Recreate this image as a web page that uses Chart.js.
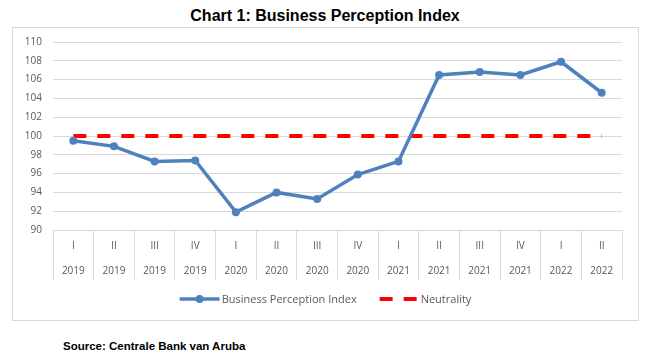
<!DOCTYPE html>
<html>
<head>
<meta charset="utf-8">
<script src="https://cdn.jsdelivr.net/npm/chart.js@4"></script>
<style>
  body { margin: 0; background: #fff; width: 657px; height: 362px; position: relative; overflow: hidden; }
  #title { position: absolute; left: 0; width: 650px; top: 7px; text-align: center;
    font: bold 16px "Liberation Sans", Arial, sans-serif; color: #000; }
  #box { position: absolute; left: 12px; top: 27px; width: 625px; height: 292px; border: 1px solid #d9d9d9; }
  #source { position: absolute; left: 63px; top: 340px; font: bold 11.5px "Liberation Sans", Arial, sans-serif; color: #000; }
</style>
</head>
<body>
<div id="title">Chart 1: Business Perception Index</div>
<div id="box"><canvas id="bpiChart"></canvas></div>
<div id="source">Source: Centrale Bank van Aruba</div>
<script>
// ===== DATA =====
const quarters = ["I", "II", "III", "IV", "I", "II", "III", "IV", "I", "II", "III", "IV", "I", "II"];
const years = ["2019", "2019", "2019", "2019", "2020", "2020", "2020", "2020", "2021", "2021", "2021", "2021", "2022", "2022"];
const bpiValues = [99.5, 98.9, 97.3, 97.4, 91.9, 94.0, 93.3, 95.9, 97.3, 106.5, 106.8, 106.5, 107.9, 104.6];
const neutrality = [100, 100, 100, 100, 100, 100, 100, 100, 100, 100, 100, 100, 100, 100];
const yTicks = [90, 92, 94, 96, 98, 100, 102, 104, 106, 108, 110];

const labels = quarters.map((q, i) => [q, years[i]]);
const tickFont = { family: "'Open Sans', sans-serif", size: 10 };

// ===== LEGEND (drawn under the axis) =====
const legendPlugin = {
  id: "bottomLegend",
  afterDraw(chart) {
    const ctx = chart.ctx;
    const y = 271;
    ctx.save();
    ctx.font = "11px 'Open Sans', sans-serif";
    const items = chart.data.datasets.slice().reverse();
    const lineW = 40, gap = 2, space = 22;
    let total = 0;
    items.forEach((d, i) => {
      total += lineW + gap + ctx.measureText(d.label).width + (i ? space : 0);
    });
    let x = chart.width / 2 - total / 2;
    items.forEach(d => {
      ctx.strokeStyle = d.borderColor;
      ctx.lineWidth = d.borderWidth;
      ctx.setLineDash(d.borderDash || []);
      ctx.beginPath();
      if (d.borderDash) {
        ctx.moveTo(x + 1, y); ctx.lineTo(x + lineW, y);
      } else {
        ctx.moveTo(x, y); ctx.lineTo(x + lineW, y);
      }
      ctx.stroke();
      ctx.setLineDash([]);
      if (d.pointRadius) {
        ctx.fillStyle = d.borderColor;
        ctx.beginPath();
        ctx.arc(x + lineW / 2, y, d.pointRadius, 0, Math.PI * 2);
        ctx.fill();
      }
      ctx.fillStyle = "#595959";
      ctx.textBaseline = "middle";
      ctx.fillText(d.label, x + lineW + gap, y + 1);
      x += lineW + gap + ctx.measureText(d.label).width + space;
    });
    ctx.restore();
  }
};

// ===== CHART =====
new Chart(document.getElementById("bpiChart"), {
  type: "line",
  data: {
    labels: labels,
    datasets: [{
      label: "Neutrality",
      data: neutrality,
      borderColor: "#ff0000",
      borderWidth: 4,
      borderDash: [13, 11],
      pointRadius: 0,
      order: 2
    }, {
      label: "Business Perception Index",
      data: bpiValues,
      borderColor: "#4f81bd",
      backgroundColor: "#4f81bd",
      borderWidth: 3.5,
      pointRadius: 4,
      pointBackgroundColor: "#4f81bd",
      pointBorderWidth: 0,
      tension: 0,
      order: 1
    }]
  },
  options: {
    responsive: true,
    maintainAspectRatio: false,
    animation: false,
    layout: { padding: { top: 14, right: 16, left: 0, bottom: 0 } },
    plugins: { legend: { display: false }, tooltip: { enabled: false } },
    scales: {
      x: {
        offset: true,
        grid: { offset: true, drawOnChartArea: false, tickLength: 50, color: "#d9d9d9" },
        border: { color: "#d9d9d9" },
        ticks: { font: { ...tickFont, lineHeight: 2.5 }, color: "#595959", padding: -46, maxRotation: 0, autoSkip: false },
        afterFit(scale) { scale.height = 90; }
      },
      y: {
        min: 90,
        max: 110,
        afterBuildTicks(scale) { scale.ticks = yTicks.map(v => ({ value: v })); },
        grid: { color: "#d9d9d9", drawTicks: false },
        border: { display: false },
        ticks: { font: tickFont, color: "#595959", padding: 11 },
        afterFit(scale) {
          scale.width = 40;
          scale.paddingTop = 0;
          scale.paddingBottom = 0;
        }
      }
    }
  },
  plugins: [legendPlugin]
});
</script>
</body>
</html>
